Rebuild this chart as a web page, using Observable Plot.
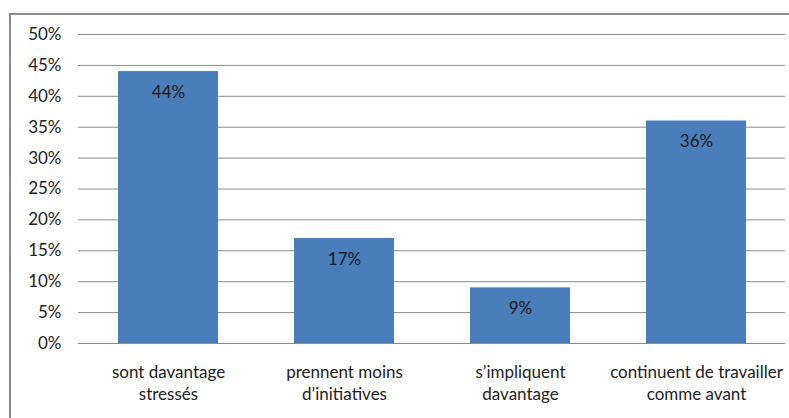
<!DOCTYPE html>
<html>
<head>
<meta charset="utf-8">
<script src="https://cdn.jsdelivr.net/npm/d3@7"></script>
<script src="https://cdn.jsdelivr.net/npm/@observablehq/plot@0.6"></script>
<style>
  html, body { margin: 0; padding: 0; background: #fff; }
  #wrap { position: relative; width: 789px; height: 418px; overflow: hidden; }
  #frame { position: absolute; left: 9px; top: 13px; width: 800px; height: 420px;
           border-left: 2px solid #8c8c8c; border-top: 2px solid #8c8c8c; box-sizing: border-box; }
  #chart { position: absolute; left: 0; top: 0; }
</style>
</head>
<body>
<div id="wrap"><div id="frame"></div><div id="chart"></div></div>
<script>
const categories = [
  "sont davantage\nstressés",
  "prennent moins\nd’initiatives",
  "s’impliquent\ndavantage",
  "continuent de travailler\ncomme avant"
];
const values = [0.44, 0.17, 0.09, 0.36];
const valueLabels = ["44%", "17%", "9%", "36%"];
const yTicks = [0, 0.05, 0.10, 0.15, 0.20, 0.25, 0.30, 0.35, 0.40, 0.45, 0.50];

const data = categories.map((c, i) => ({cat: c, v: values[i], label: valueLabels[i]}));
const font = "Lato, 'Open Sans', sans-serif";

const chart = Plot.plot({
  width: 789,
  height: 418,
  marginLeft: 78,
  marginRight: 4,
  marginTop: 34,
  marginBottom: 75,
  style: {fontFamily: font, fontSize: "17px", color: "#222", background: "transparent"},
  x: {domain: categories, paddingInner: 0.434, paddingOuter: 0.217, label: null},
  y: {domain: [0, 0.5], label: null},
  marks: [
    Plot.gridY(yTicks, {stroke: "#8c8c8c", strokeOpacity: 1, strokeWidth: 1}),
    Plot.barY(data, {x: "cat", y: "v", fill: "#4a7ebb"}),
    Plot.ruleX([0], {frameAnchor: "left", y1: 0, y2: 0.5, stroke: "#8c8c8c"}),
    Plot.ruleY([0], {stroke: "#8c8c8c"}),
    Plot.axisY({ticks: yTicks, tickFormat: d3.format(".0%"), tickSize: 0, tickPadding: 17, fontSize: 17, fill: "#222"}),
    Plot.axisX({tickSize: 0, tickPadding: 19, fontSize: 17, lineHeight: 1.3, fill: "#222"}),
    Plot.text(data, {x: "cat", y: "v", text: "label", dy: 21, fill: "#1a1a1a", fontSize: 17})
  ]
});
document.getElementById("chart").appendChild(chart);
</script>
</body>
</html>
